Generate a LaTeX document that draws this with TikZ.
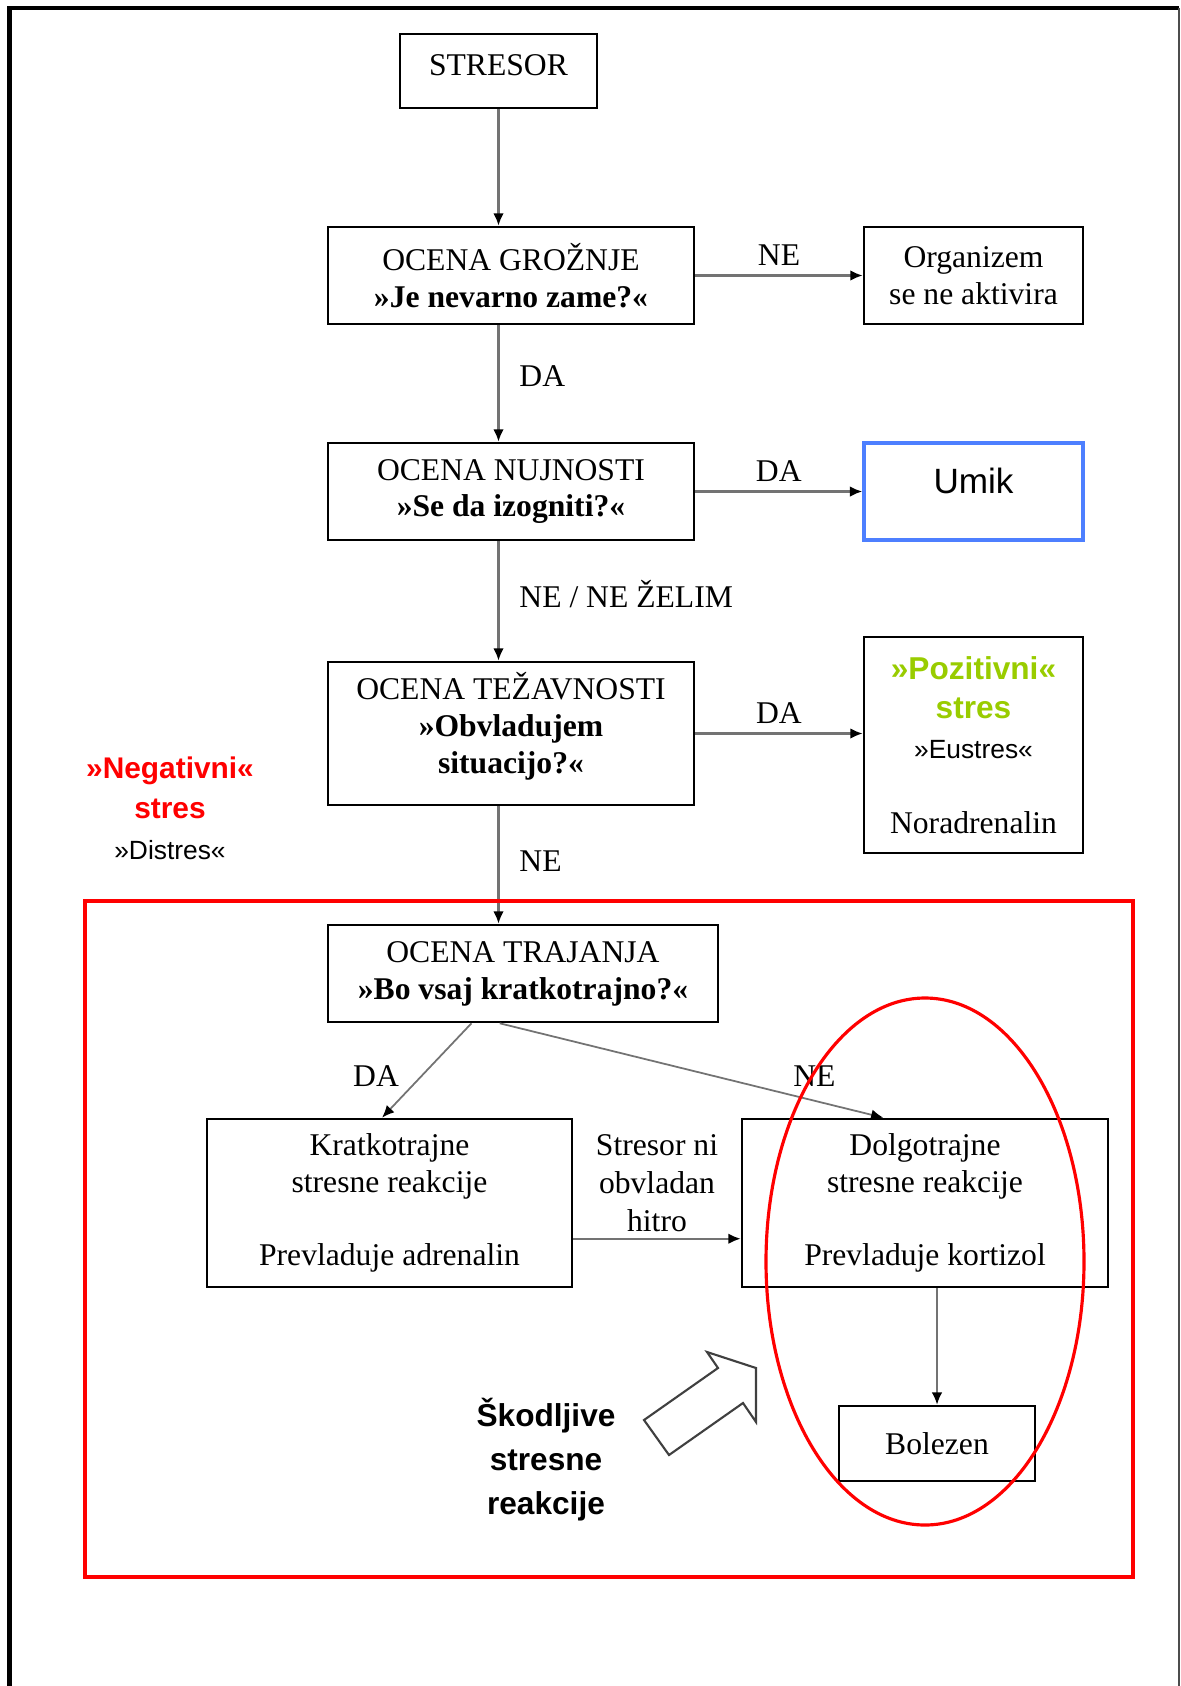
\documentclass[tikz,border=0pt]{standalone}
\usepackage{fontspec}
\setmainfont{Liberation Serif}
\setsansfont{Liberation Sans}
\usetikzlibrary{arrows.meta}
\definecolor{pozgreen}{HTML}{99CC00}
\definecolor{umikblue}{HTML}{4D7FFF}

\begin{document}
\begin{tikzpicture}[x=0.02cm, y=-0.02cm]
        % Define styles
        \tikzset{
            box/.style={rectangle, draw, line width=1.5pt, align=center, inner sep=2pt, font=\fontsize{18}{21}\selectfont},
            arrow/.style={draw=black!55, line width=1.2pt, -{Latex[length=7pt, width=6pt, color=black]}},
            lbl/.style={font=\fontsize{18}{21}\selectfont},
            note/.style={align=center, font=\sffamily\bfseries\fontsize{17}{23}\selectfont}
        }
        \useasboundingbox (0,0) rectangle (1180,1686);

        % Frame
        \draw[line width=2.3pt] (9.5,1686) -- (9.5,8) -- (1179,8);
        \draw[black!70, line width=0.6pt] (1179,8) -- (1179,1686);

        % Nodes
        \node[box, minimum width=3.94cm, minimum height=1.48cm, text height=13pt, text depth=8.4pt] (stresor) at (498.5,71) {STRESOR};
        \node[box, minimum width=7.32cm, minimum height=1.94cm] (groznje) at (511,275.5) {OCENA GROŽNJE\\ \textbf{»Je nevarno zame?«}};
        \node[box, minimum width=4.38cm, minimum height=1.94cm] (organizem) at (973.5,275.5) {Organizem\\ se ne aktivira};
        \node[box, minimum width=7.32cm, minimum height=1.94cm] (nujnosti) at (511,491.5) {OCENA NUJNOSTI\\ \textbf{»Se da izogniti?«}};
        \node[box, draw=umikblue, line width=2pt, minimum width=4.38cm, minimum height=1.94cm, font=\sffamily\fontsize{20}{24}\selectfont, text height=15pt, text depth=12.6pt] (umik) at (973.5,491.5) {Umik};
        \node[box, minimum width=7.32cm, minimum height=2.86cm, text depth=12pt] (tezavnosti) at (511,733.5) {OCENA TEŽAVNOSTI\\ \textbf{»Obvladujem}\\ \textbf{situacijo?«}};
        \node[box, minimum width=4.38cm, minimum height=4.32cm, font=\fontsize{18}{22.5}\selectfont] (pozitivni) at (973.5,745) {\textcolor{pozgreen}{\sffamily\bfseries »Pozitivni«}\\ \textcolor{pozgreen}{\sffamily\bfseries stres}\\ {\sffamily\fontsize{15}{18}\selectfont »Eustres«}\\[20pt] Noradrenalin};
        \node[note] (negativni) at (170,808) {\textcolor{red}{»Negativni«}\\ \textcolor{red}{stres}\\ {\mdseries\fontsize{15}{18}\selectfont »Distres«}};
        \node[box, minimum width=7.8cm, minimum height=1.94cm] (trajanja) at (523,973.5) {OCENA TRAJANJA\\ \textbf{»Bo vsaj kratkotrajno?«}};
        \node[box, minimum width=7.3cm, minimum height=3.36cm] (kratko) at (389.5,1203) {Kratkotrajne\\ stresne reakcije\\[21pt] Prevladuje adrenalin};
        \node[box, minimum width=7.32cm, minimum height=3.36cm] (dolgo) at (925,1203) {Dolgotrajne\\ stresne reakcije\\[21pt] Prevladuje kortizol};
        \node[box, minimum width=3.92cm, minimum height=1.5cm] (bolezen) at (937,1443.5) {Bolezen};
        \node[note, font=\sffamily\bfseries\fontsize{18}{25}\selectfont] (skodljive) at (546,1460) {Škodljive\\ stresne\\ reakcije};

        % Arrows
        \draw[arrow] (stresor.south) -- (stresor.south |- groznje.north);
        \draw[arrow] (groznje.south -| stresor.south) -- (nujnosti.north -| stresor.south) node[lbl, midway, right, xshift=8pt, yshift=4pt] {DA};
        \draw[arrow] (nujnosti.south -| stresor.south) -- (tezavnosti.north -| stresor.south) node[lbl, midway, right, xshift=8pt, yshift=4pt] {NE / NE ŽELIM};
        \draw[arrow] (tezavnosti.south -| stresor.south) -- (trajanja.north -| stresor.south) node[lbl, midway, right, xshift=8pt, yshift=2pt] {NE};
        \draw[arrow] (groznje.east) -- (organizem.west) node[lbl, midway, above, yshift=2pt] {NE};
        \draw[arrow] (nujnosti.east) -- (umik.west) node[lbl, midway, above, yshift=2pt] {DA};
        \draw[arrow] (tezavnosti.east) -- (tezavnosti.east -| pozitivni.west) node[lbl, midway, above, yshift=2pt] {DA};
        \draw[arrow, line width=1pt] (trajanja.224) -- (kratko.95) node[lbl, midway, left, xshift=-12pt, yshift=-3pt] {DA};
        \draw[arrow, line width=1pt] (trajanja.245) -- (dolgo.116) node[lbl, pos=0.82, above, yshift=4pt] {NE};
        \draw[arrow] (kratko.-11.2) -- (kratko.-11.2 -| dolgo.west) node[lbl, midway, above, align=center, font=\fontsize{18}{21.5}\selectfont] {Stresor ni\\ obvladan\\ hitro};
        \draw[arrow, line width=1pt] (dolgo.south -| bolezen.north) -- (bolezen.north);

        % Hollow arrow
        \draw[black!75, line width=1.2pt, fill=white, line join=miter] (644,1420) -- (718,1368) -- (707,1352) -- (756,1368) -- (756,1422) -- (743,1403) -- (669,1455) -- cycle;

        % Red marks
        \draw[red, line width=2.3pt] (85,901) rectangle (1133,1577);
        \draw[red, line width=1.8pt] (925,1261.5) ellipse [x radius=159, y radius=263.5];
    \end{tikzpicture}
\end{document}
